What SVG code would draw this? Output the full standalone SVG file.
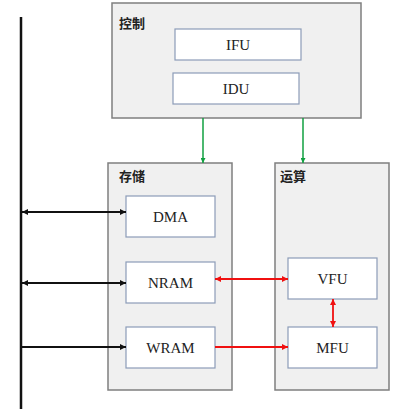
<svg xmlns="http://www.w3.org/2000/svg" width="400" height="420" viewBox="0 0 400 420">
<style>
.grp{fill:#f0f0f0;stroke:#7f7f7f;stroke-width:1.5}
.unit{fill:#ffffff;stroke:#8c9cb8;stroke-width:1.2}
.glabel{font-family:"Noto Sans CJK SC","Noto Sans",sans-serif;font-size:13px;font-weight:bold;fill:#222}
.ulabel{font-family:"Liberation Serif",serif;font-size:15px;fill:#222;text-anchor:middle;dominant-baseline:central}
.blk{stroke:#111;stroke-width:1.8;fill:none}
.red{stroke:#f01010;stroke-width:1.8;fill:none}
.grn{stroke:#10a040;stroke-width:1.5;fill:none}
</style>
<defs>
<marker id="ab" viewBox="0 0 10 10" refX="10" refY="5" markerWidth="6" markerHeight="6" orient="auto-start-reverse" markerUnits="userSpaceOnUse"><path d="M0,0 L10,5 L0,10 z" fill="#111"/></marker>
<marker id="ar" viewBox="0 0 10 10" refX="10" refY="5" markerWidth="6" markerHeight="6" orient="auto-start-reverse" markerUnits="userSpaceOnUse"><path d="M0,0 L10,5 L0,10 z" fill="#f01010"/></marker>
<marker id="ag" viewBox="0 0 10 10" refX="10" refY="5" markerWidth="5" markerHeight="5" orient="auto-start-reverse" markerUnits="userSpaceOnUse"><path d="M0,0 L10,5 L0,10 z" fill="#10a040"/></marker>
</defs>
<g id="bus"><line x1="21" y1="17" x2="21" y2="409" stroke="#111" stroke-width="2.5"/></g>
<g id="control">
<rect class="grp" x="112" y="3" width="249" height="115"/>
<text class="glabel" x="119" y="28">控制</text>
</g>
<g id="IFU"><rect class="unit" x="175" y="29" width="126" height="31"/><text class="ulabel" x="238" y="45">IFU</text></g>
<g id="IDU"><rect class="unit" x="173" y="73" width="126" height="31"/><text class="ulabel" x="236" y="89">IDU</text></g>
<g id="storage">
<rect class="grp" x="108" y="163" width="124" height="227"/>
<text class="glabel" x="119" y="181">存储</text>
</g>
<g id="DMA"><rect class="unit" x="126" y="196" width="89" height="41"/><text class="ulabel" x="170.5" y="217">DMA</text></g>
<g id="NRAM"><rect class="unit" x="126" y="262" width="89" height="41"/><text class="ulabel" x="170.5" y="283">NRAM</text></g>
<g id="WRAM"><rect class="unit" x="126" y="327" width="89" height="41"/><text class="ulabel" x="170.5" y="348">WRAM</text></g>
<g id="compute">
<rect class="grp" x="275" y="163" width="114" height="227"/>
<text class="glabel" x="280" y="181">运算</text>
</g>
<g id="VFU"><rect class="unit" x="288" y="258" width="89" height="41"/><text class="ulabel" x="332.5" y="279">VFU</text></g>
<g id="MFU"><rect class="unit" x="288" y="327" width="89" height="41"/><text class="ulabel" x="332.5" y="348">MFU</text></g>
<g id="connectors">
<line class="grn" x1="203" y1="118" x2="203" y2="163" marker-end="url(#ag)"/>
<line class="grn" x1="303" y1="118" x2="303" y2="163" marker-end="url(#ag)"/>
<line class="blk" x1="22" y1="212" x2="126" y2="212" marker-start="url(#ab)" marker-end="url(#ab)"/>
<line class="blk" x1="22" y1="283" x2="126" y2="283" marker-start="url(#ab)" marker-end="url(#ab)"/>
<line class="blk" x1="22" y1="347" x2="126" y2="347" marker-end="url(#ab)"/>
<line class="red" x1="215" y1="279" x2="288" y2="279" marker-start="url(#ar)" marker-end="url(#ar)"/>
<line class="red" x1="215" y1="347" x2="288" y2="347" marker-end="url(#ar)"/>
<line class="red" x1="333" y1="299" x2="333" y2="327" marker-start="url(#ar)" marker-end="url(#ar)"/>
</g>
</svg>
